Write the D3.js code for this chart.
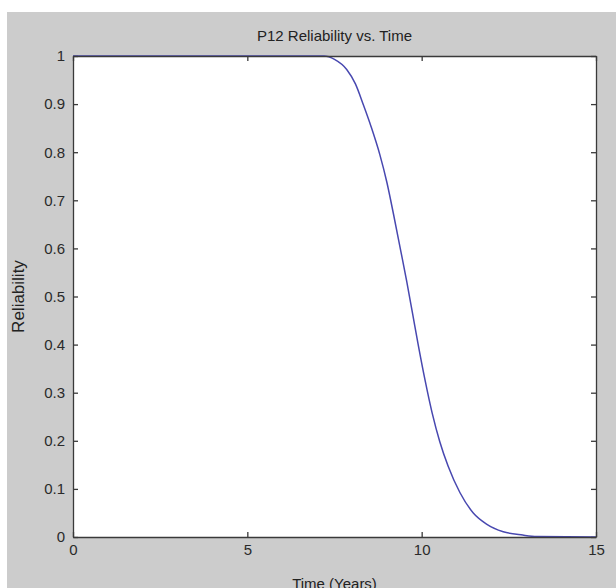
<!DOCTYPE html>
<html>
<head>
<meta charset="utf-8">
<script src="https://cdn.jsdelivr.net/npm/d3@7"></script>
<style>
  body { margin: 0; background: #fff; }
  svg { display: block; font-family: "Liberation Sans", Arial, sans-serif; }
  .axis path, .axis line { stroke: #3a3a3a; stroke-width: 1.3; }
  .axis text { fill: #2a2a2a; font-size: 15px; }
</style>
</head>
<body>
<div id="chart"></div>
<script>
// values
const timeYears = [0, 7.2, 7.5, 7.85, 8.1, 8.33, 8.55, 8.8, 9.0, 9.19, 9.4, 9.57, 9.75, 9.9,
  10.1, 10.3, 10.52, 10.76, 11.1, 11.48, 11.86, 12.34, 12.9, 13.3, 15];
const reliability = [1, 1, 0.993, 0.972, 0.942, 0.898, 0.853, 0.795, 0.738, 0.672, 0.595, 0.532, 0.46, 0.4,
  0.325, 0.258, 0.198, 0.147, 0.092, 0.05, 0.027, 0.011, 0.004, 0.001, 0];
const xTicks = [0, 5, 10, 15];
const xTickLabels = ["0", "5", "10", "15"];
const yTicks = [0, 0.1, 0.2, 0.3, 0.4, 0.5, 0.6, 0.7, 0.8, 0.9, 1];
const yTickLabels = ["0", "0.1", "0.2", "0.3", "0.4", "0.5", "0.6", "0.7", "0.8", "0.9", "1"];

const W = 616, H = 588;
const margin = { top: 56, right: 20, bottom: 51, left: 73 },
  width = W - margin.left - margin.right,
  height = H - margin.top - margin.bottom;

const svg = d3.select("#chart").append("svg")
  .attr("width", W)
  .attr("height", H);

// gray figure background
svg.append("rect")
  .attr("x", 7).attr("y", 12)
  .attr("width", W - 7).attr("height", H - 12)
  .attr("fill", "#cccccc");

const g = svg.append("g")
  .attr("transform", "translate(" + margin.left + "," + margin.top + ")");

g.append("rect")
  .attr("width", width).attr("height", height)
  .attr("fill", "#ffffff");

const x = d3.scaleLinear().domain([0, 15]).range([0, width]);
const y = d3.scaleLinear().domain([0, 1]).range([height, 0]);

// line
const data = timeYears.map((t, i) => ({ t: t, r: reliability[i] }));
const line = d3.line()
  .x((d) => x(d.t))
  .y((d) => y(d.r))
  .curve(d3.curveMonotoneX);

g.append("path")
  .datum(data)
  .attr("d", line)
  .attr("fill", "none")
  .attr("stroke", "#4848b0")
  .attr("stroke-width", 1.5);

// axes (MATLAB style box with inward ticks)
g.append("g").attr("class", "axis")
  .attr("transform", "translate(0," + height + ")")
  .call(d3.axisBottom(x).tickValues(xTicks).tickFormat((d, i) => xTickLabels[i])
    .tickSize(-5).tickSizeOuter(0).tickPadding(7));

g.append("g").attr("class", "axis")
  .call(d3.axisLeft(y).tickValues(yTicks).tickFormat((d, i) => yTickLabels[i])
    .tickSize(-5).tickSizeOuter(0).tickPadding(8));

g.append("g").attr("class", "axis")
  .call(d3.axisTop(x).tickValues(xTicks).tickFormat("").tickSize(-5).tickSizeOuter(0));

g.append("g").attr("class", "axis")
  .attr("transform", "translate(" + width + ",0)")
  .call(d3.axisRight(y).tickValues(yTicks).tickFormat("").tickSize(-5).tickSizeOuter(0));

// title and labels
svg.append("text")
  .attr("x", margin.left + width / 2)
  .attr("y", 41)
  .attr("text-anchor", "middle")
  .style("font-size", "15px")
  .style("fill", "#222")
  .text("P12 Reliability vs. Time");

svg.append("text")
  .attr("x", margin.left + width / 2)
  .attr("y", 589)
  .attr("text-anchor", "middle")
  .style("font-size", "15px")
  .style("fill", "#222")
  .text("Time (Years)");

svg.append("text")
  .attr("transform", "translate(24," + (margin.top + height / 2) + ") rotate(-90)")
  .attr("text-anchor", "middle")
  .style("font-size", "17px")
  .style("fill", "#222")
  .text("Reliability");
</script>
</body>
</html>
